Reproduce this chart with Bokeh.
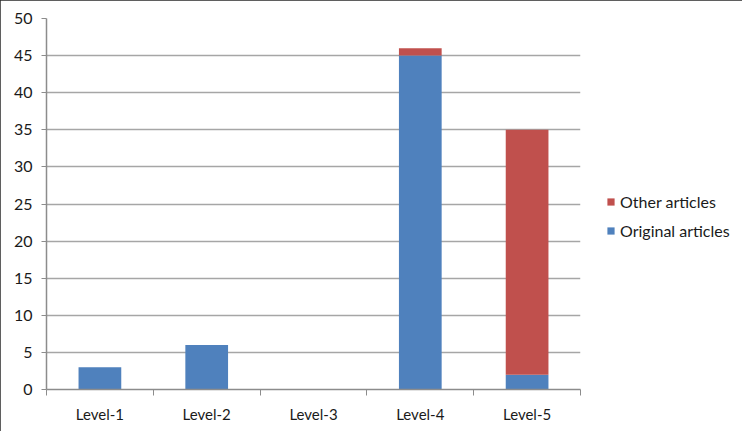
from bokeh.plotting import figure
from bokeh.models import Range1d, FixedTicker, Legend, LegendItem, ColumnDataSource
from bokeh.embed import file_html
from bokeh.resources import INLINE

categories = ["Level-1", "Level-2", "Level-3", "Level-4", "Level-5"]
original_articles = [3, 6, 0, 45, 2]
other_articles = [0, 0, 0, 1, 33]
y_ticks = [0, 5, 10, 15, 20, 25, 30, 35, 40, 45, 50]

pos = [i + 0.5 for i in range(len(categories))]
src = ColumnDataSource(dict(x=pos, original=original_articles, other=other_articles))

FONT = "Lato"
TXT = "#1a1a1a"

p = figure(frame_width=534, frame_height=371, output_backend="svg", toolbar_location=None,
           x_range=Range1d(0, len(categories)), y_range=Range1d(0, 50),
           min_border_left=46, min_border_top=18, min_border_bottom=42, min_border_right=0)

rs = p.vbar_stack(["original", "other"], x="x", width=0.4, source=src,
                  color=["#4F81BD", "#C0504D"], line_color=None)

legend = Legend(items=[LegendItem(label="Other articles", renderers=[rs[1]]),
                       LegendItem(label="Original articles", renderers=[rs[0]])],
                location=(26, 149), border_line_color=None, background_fill_alpha=0,
                label_text_font=FONT, label_text_font_size="16px", label_text_color=TXT,
                glyph_width=9, glyph_height=9, spacing=10, padding=0,
                label_standoff=5)
legend.margin = 0
p.add_layout(legend, "right")

p.xgrid.visible = False
p.ygrid.grid_line_color = "#A6A6A6"
p.ygrid.grid_line_width = 1.5
p.ygrid.ticker = FixedTicker(ticks=y_ticks)

p.yaxis.ticker = FixedTicker(ticks=y_ticks)
p.xaxis.ticker = FixedTicker(ticks=pos, minor_ticks=list(range(len(categories) + 1)))
p.xaxis.major_label_overrides = {x: c for x, c in zip(pos, categories)}

for ax in (p.xaxis, p.yaxis):
    ax.axis_line_color = "#8C8C8C"
    ax.axis_line_width = 1.5
    ax.major_tick_line_color = "#8C8C8C"
    ax.minor_tick_line_color = "#8C8C8C"
    ax.major_label_text_font = FONT
    ax.major_label_text_color = TXT

p.yaxis.major_tick_out = 5
p.yaxis.major_tick_in = 0
p.yaxis.minor_tick_out = 0
p.yaxis.minor_tick_in = 0
p.yaxis.major_label_text_font_size = "16px"
p.yaxis.major_label_standoff = 9

p.xaxis.major_tick_out = 0
p.xaxis.major_tick_in = 0
p.xaxis.minor_tick_out = 6
p.xaxis.minor_tick_in = 0
p.xaxis.major_label_text_font_size = "15px"
p.xaxis.major_label_standoff = 9

p.outline_line_color = None
p.styles = {"outline": "2px solid #2a2a2a", "outline-offset": "-2px"}

open("out.html", "w").write(file_html(p, INLINE))
